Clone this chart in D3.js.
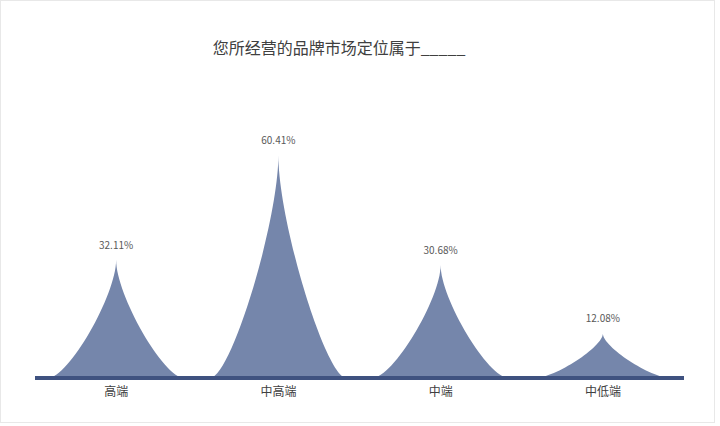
<!DOCTYPE html>
<html>
<head>
<meta charset="utf-8">
<script src="https://cdn.jsdelivr.net/npm/d3@7"></script>
<style>
  body { margin: 0; background: #fff; }
  text { font-family: "Microsoft YaHei", "Noto Sans CJK SC", sans-serif; }
</style>
</head>
<body>
<div id="chart"></div>
<script>
const categories = ["高端", "中高端", "中端", "中低端"];
const values = [32.11, 60.41, 30.68, 12.08];
const labels = ["32.11%", "60.41%", "30.68%", "12.08%"];
const title = "您所经营的品牌市场定位属于_____";

const W = 720, H = 426;
const margin = { top: 120, right: 36, bottom: 48, left: 35 };

const svg = d3.select("#chart").append("svg")
    .attr("width", W)
    .attr("height", H);

svg.append("rect")
    .attr("x", 0.5).attr("y", 0.5)
    .attr("width", 714).attr("height", 422)
    .attr("fill", "#fff")
    .attr("stroke", "#e8e8e8");

const xScale = d3.scaleBand()
    .domain(categories)
    .range([margin.left, W - margin.right]);

const yScale = d3.scaleLinear()
    .domain([0, 70])
    .range([H - margin.bottom, margin.top]);

svg.append("text")
    .attr("x", 339)
    .attr("y", 54)
    .attr("text-anchor", "middle")
    .attr("font-size", 16)
    .attr("fill", "#404040")
    .text(title);

// spike shape: two cubic curves, flat at the base and vertical at the tip
function spike(i) {
    const cx = xScale(categories[i]) + xScale.bandwidth() / 2;
    const half = xScale.bandwidth() * 0.42;
    const y0 = yScale(0), y1 = yScale(values[i]);
    const h = y0 - y1;
    const a = 0.3 * half, b = 0.3 * h;
    return `M${cx - half},${y0}` +
        ` C${cx - half + a},${y0} ${cx},${y1 + b} ${cx},${y1}` +
        ` C${cx},${y1 + b} ${cx + half - a},${y0} ${cx + half},${y0} Z`;
}

svg.selectAll(".spike")
    .data(values)
    .enter().append("path")
    .attr("class", "spike")
    .attr("d", (d, i) => spike(i))
    .attr("fill", "#7586ab");

svg.selectAll(".val")
    .data(values)
    .enter().append("text")
    .attr("class", "val")
    .attr("x", (d, i) => xScale(categories[i]) + xScale.bandwidth() / 2)
    .attr("y", d => yScale(d) - 11)
    .attr("text-anchor", "middle")
    .attr("font-size", 10)
    .attr("fill", "#595959")
    .text((d, i) => labels[i]);

const xAxis = d3.axisBottom(xScale).tickSize(0).tickPadding(9);
const gx = svg.append("g")
    .attr("transform", `translate(0,${yScale(0)})`)
    .call(xAxis);
gx.select(".domain")
    .attr("stroke", "#3f5280")
    .attr("stroke-width", 4)
    .attr("d", `M${margin.left},0H${W - margin.right}`);
gx.selectAll("text")
    .attr("font-size", 12)
    .attr("fill", "#404040");
</script>
</body>
</html>
